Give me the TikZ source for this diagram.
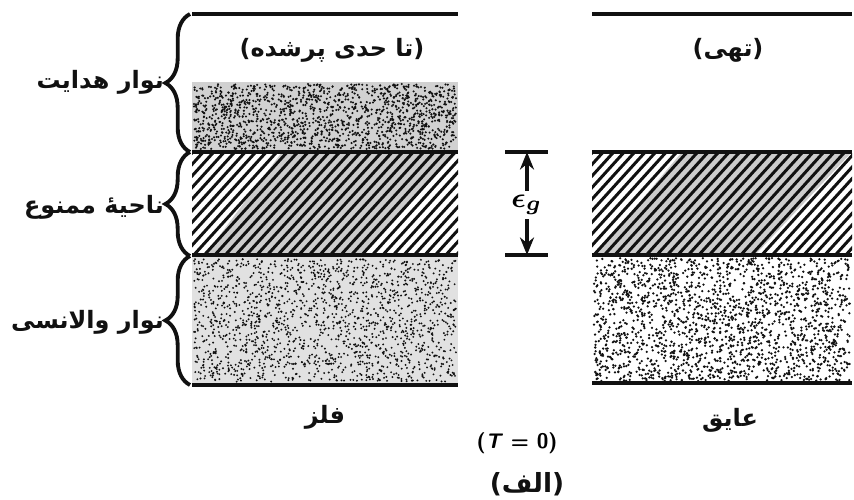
\documentclass[tikz,border=0pt]{standalone}
\usepackage{fontspec}
\usepackage{amsmath, amssymb}
\usepackage{xcolor}
\usepackage{tikz}
\usetikzlibrary{arrows.meta, positioning, decorations.pathreplacing}
\TeXXeTstate=1
\newfontfamily\fafont[Script=Arabic]{DejaVu Sans}
\definecolor{inkblack}{HTML}{111111}
\definecolor{stipgray}{HTML}{BDBDBD}
\tikzset{
  falabel/.style={font=\fafont\bfseries\fontsize{6.8}{8}\selectfont,inner sep=1pt,text=inkblack},
  edgeline/.style={line width=1.1pt,inkblack},
  bandline/.style={line width=1.0pt,inkblack},
  hatchline/.style={line width=0.85pt,inkblack},
  bracket/.style={decorate,decoration={brace,amplitude=7pt,raise=0pt},line width=1.1pt,inkblack},
  gaparrow/.style={-{Stealth[length=5pt,width=4pt]},line width=0.9pt,inkblack},
}
% random specks inside a box: x1,y1,x2,y2,count,radius
\newcommand{\specks}[6]{%
  \foreach \k in {1,...,#5}{%
    \pgfmathsetmacro{\sx}{#1+rnd*(#3-#1)}%
    \pgfmathsetmacro{\sy}{#2+rnd*(#4-#2)}%
    \fill[inkblack] (\sx,\sy) circle[radius=#6];
  }}
% diagonal hatching of a band: x1,y1,x2,y2, gray parallelogram corners
\newcommand{\hatchband}[8]{%
  \begin{scope}
    \clip (#1,#2) rectangle (#3,#4);
    \fill[gray!40] (#5,#2) -- (#6,#2) -- (#8,#4) -- (#7,#4) -- cycle;
    \foreach \h in {-12,...,28}{%
      \draw[hatchline] (#1+\h*10.5,#4+2) -- ++(98,-108);
    }
  \end{scope}}

\begin{document}
\begin{tikzpicture}[x=0.01cm,y=-0.01cm]
  \useasboundingbox (0,0) rectangle (854,500);
  \pgfmathsetseed{4172}

  % metal: stippled bands
  \fill[stipgray!70] (192,82) rectangle (458,150);
  \specks{194}{84}{456}{149}{1500}{0.33pt}
  \fill[stipgray!45] (192,257) rectangle (458,383);
  \specks{194}{259}{456}{382}{1700}{0.3pt}
  % insulator: valence band
  \specks{594}{258}{850}{381}{1900}{0.36pt}

  % forbidden region
  \hatchband{192}{152}{458}{255}{282}{458}{205}{362}
  \hatchband{592}{152}{852}{255}{682}{852}{595}{755}

  % band edges
  \draw[edgeline] (192,14) -- (458,14);
  \draw[edgeline] (592,14) -- (852,14);
  \draw[bandline] (192,152) -- (458,152);
  \draw[bandline] (192,255) -- (458,255);
  \draw[bandline] (592,152) -- (852,152);
  \draw[bandline] (592,255) -- (852,255);
  \draw[edgeline] (192,385) -- (458,385);
  \draw[edgeline] (592,383) -- (852,383);

  % braces on the left
  \coordinate (brA) at (190,14);
  \coordinate (brB) at (190,152);
  \coordinate (brC) at (190,256);
  \coordinate (brD) at (190,385);
  \draw[bracket] (brB) -- (brA);
  \draw[bracket] (brC) -- (brB);
  \draw[bracket] (brD) -- (brC);
  \node[falabel,anchor=east] (lcond) at (168,82) {\beginR نوار هدایت\endR};
  \node[falabel,anchor=east] (lgap) at (168,207) {\beginR ناحیهٔ ممنوع\endR};
  \node[falabel,anchor=east] (lval) at (168,322) {\beginR نوار والانسی\endR};

  % captions
  \node[falabel] (tpart) at (332,50) {\beginR (تا حدی پرشده)\endR};
  \node[falabel] (tempty) at (728,50) {\beginR (تهی)\endR};
  \node[falabel] (tmetal) at (325,417) {\beginR فلز\endR};
  \node[falabel] (tins) at (730,420) {\beginR عایق\endR};
  \node[font=\sffamily\bfseries\fontsize{6}{7}\selectfont,inner sep=1pt] (tzero) at (517,443) {(\textit{T} = 0)};
  \node[falabel,font=\fafont\bfseries\fontsize{7.5}{9}\selectfont] (tfig) at (527,484) {\beginR (الف)\endR};

  % gap width
  \coordinate (egtop) at (527,152);
  \coordinate (egbot) at (527,255);
  \draw[edgeline] (505,152) -- (548,152);
  \draw[edgeline] (505,255) -- (548,255);
  \node[inner sep=1pt,font=\fontsize{8}{9}\selectfont] (eg) at (527,205) {$\boldsymbol{\epsilon_g}$};
  \draw[gaparrow] (eg) -- (egtop);
  \draw[gaparrow] (eg) -- (egbot);
\end{tikzpicture}
\end{document}
